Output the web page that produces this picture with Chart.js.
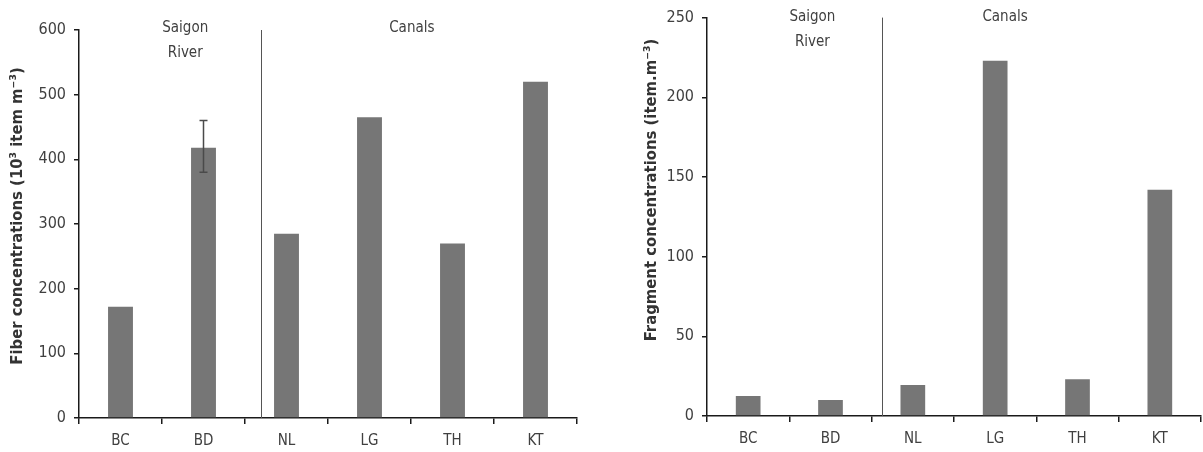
<!DOCTYPE html>
<html>
<head>
<meta charset="utf-8">
<script src="https://cdn.jsdelivr.net/npm/chart.js@4.4.1/dist/chart.umd.min.js"></script>
<style>
  html, body { margin: 0; padding: 0; background: #fff; }
  #wrap { position: relative; width: 1203px; height: 452px; }
  .box { position: absolute; top: 0; height: 452px; }
</style>
</head>
<body>
<div id="wrap">
  <div class="box" style="left:0;width:600px"><canvas id="fiberChart"></canvas></div>
  <div class="box" style="left:600px;width:603px"><canvas id="fragmentChart"></canvas></div>
</div>
<script>
const sites = ["BC", "BD", "NL", "LG", "TH", "KT"]
const fiberValues = [172, 418, 285, 465, 270, 520]
const fiberErrLow = [null, 380, null, null, null, null]
const fiberErrHigh = [null, 460, null, null, null, null]
const fiberTicks = [0, 100, 200, 300, 400, 500, 600]
const fragmentValues = [12.5, 10, 19.5, 223, 23, 142]
const fragmentTicks = [0, 50, 100, 150, 200, 250]

const FONT = "'Liberation Sans Narrow', 'DejaVu Sans Condensed', sans-serif"
const textColor = "#404040"
const axisColor = "#1a1a1a"
const barColor = "#767676"

// dividers, group captions, error bars and rotated y titles
const groupLabels = {
    id: "groupLabels",
    afterDatasetsDraw(chart, args, opts) {
        const { ctx, chartArea, scales: { x, y } } = chart
        ctx.save()

        const dx = Math.round(x.getPixelForValue(opts.dividerAt)) + 0.5
        ctx.strokeStyle = "#555"
        ctx.lineWidth = 1
        ctx.beginPath()
        ctx.moveTo(dx, chartArea.top)
        ctx.lineTo(dx, chartArea.bottom)
        ctx.stroke()

        ctx.fillStyle = textColor
        ctx.font = "15px " + FONT
        ctx.textAlign = "center"
        ctx.textBaseline = "middle"
        opts.groups.forEach(g => {
            const gx = x.getPixelForValue(g.at)
            g.lines.forEach((t, i) => ctx.fillText(t, gx, chartArea.top + g.dy + i * 25))
        })

        if (opts.errLow) {
            const meta = chart.getDatasetMeta(0)
            ctx.strokeStyle = "#4a4a4a"
            ctx.lineWidth = 1.5
            meta.data.forEach((bar, i) => {
                if (opts.errLow[i] == null) return
                const yl = y.getPixelForValue(opts.errLow[i])
                const yh = y.getPixelForValue(opts.errHigh[i])
                ctx.beginPath()
                ctx.moveTo(bar.x, yl); ctx.lineTo(bar.x, yh)
                ctx.moveTo(bar.x - 4, yl); ctx.lineTo(bar.x + 4, yl)
                ctx.moveTo(bar.x - 4, yh); ctx.lineTo(bar.x + 4, yh)
                ctx.stroke()
            })
        }

        ctx.translate(opts.titleX, opts.titleY)
        ctx.rotate(-Math.PI / 2)
        ctx.font = "bold 16.5px " + FONT
        ctx.fillStyle = "#333"
        ctx.fillText(opts.title, 0, 0)
        ctx.restore()
    }
}

function makeChart(id, values, ticks, cfg) {
    return new Chart(document.getElementById(id), {
        type: "bar",
        data: {
            labels: sites,
            datasets: [{
                data: values,
                backgroundColor: barColor,
                borderWidth: 0,
                categoryPercentage: 1,
                barPercentage: 0.3
            }]
        },
        options: {
            responsive: true,
            maintainAspectRatio: false,
            animation: false,
            layout: { padding: cfg.padding },
            plugins: {
                legend: { display: false },
                tooltip: { enabled: false },
                groupLabels: cfg.labels
            },
            scales: {
                x: {
                    grid: { drawOnChartArea: false, tickLength: 6, color: axisColor, lineWidth: 1.5, offset: true },
                    border: { color: axisColor, width: 1.5 },
                    ticks: { padding: 8, color: textColor, font: { family: FONT, size: 15 } },
                    afterFit: s => { s.height = cfg.xHeight }
                },
                y: {
                    min: ticks[0],
                    max: ticks[ticks.length - 1],
                    grid: { drawOnChartArea: false, tickLength: 5, color: axisColor, lineWidth: 1.5 },
                    border: { color: axisColor, width: 1.5 },
                    ticks: { padding: 8, color: textColor, font: { family: FONT, size: 16 } },
                    afterBuildTicks: s => { s.ticks = ticks.map(v => ({ value: v })) },
                    afterFit: s => { s.width = cfg.yWidth }
                }
            }
        },
        plugins: [groupLabels]
    })
}

makeChart("fiberChart", fiberValues, fiberTicks, {
    padding: { top: 30, right: 23, left: 0, bottom: 0 },
    yWidth: 79,
    xHeight: 34,
    labels: {
        dividerAt: 1.69,
        groups: [
            { at: 0.78, dy: -2, lines: ["Saigon", "River"] },
            { at: 3.51, dy: -2, lines: ["Canals"] }
        ],
        errLow: fiberErrLow,
        errHigh: fiberErrHigh,
        title: "Fiber concentrations (10³ item m⁻³)",
        titleX: 18,
        titleY: 216
    }
})

makeChart("fragmentChart", fragmentValues, fragmentTicks, {
    padding: { top: 16, right: 2, left: 0, bottom: 0 },
    yWidth: 107,
    xHeight: 36,
    labels: {
        dividerAt: 1.63,
        groups: [
            { at: 0.78, dy: 0, lines: ["Saigon", "River"] },
            { at: 3.12, dy: 0, lines: ["Canals"] }
        ],
        title: "Fragment concentrations (item.m⁻³)",
        titleX: 52,
        titleY: 190
    }
})
</script>
</body>
</html>
